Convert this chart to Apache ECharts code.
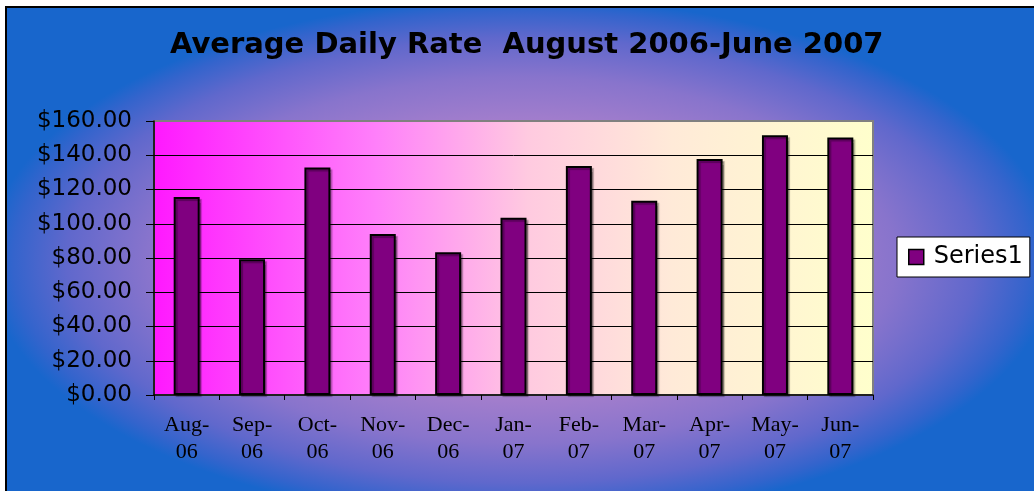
<!DOCTYPE html>
<html>
<head>
<meta charset="utf-8">
<script src="https://cdn.jsdelivr.net/npm/echarts@6/dist/echarts.min.js"></script>
<style>
  html, body { margin: 0; padding: 0; background: #fff; }
  #bg {
    position: absolute; left: 5px; top: 6px; width: 1029px; height: 485px;
    border-left: 2px solid #000; border-top: 2px solid #000;
    background: radial-gradient(ellipse 52% 54% at 50% 52%, #c29ada 0%, #a47ecc 52%, #8874cc 70%, #6068cc 85%, #3464cc 95%, #1866cc 100%);
  }
  #main { position: absolute; left: 0; top: 0; width: 1034px; height: 491px; }
</style>
</head>
<body>
<div id="bg"></div>
<div id="main"></div>
<script>
// data
var months = ['Aug-\n06', 'Sep-\n06', 'Oct-\n06', 'Nov-\n06', 'Dec-\n06', 'Jan-\n07',
              'Feb-\n07', 'Mar-\n07', 'Apr-\n07', 'May-\n07', 'Jun-\n07'];
var series1 = [115.6, 79.2, 132.9, 94.0, 83.4, 103.5, 133.7, 113.5, 137.8, 151.7, 150.4];
var yMin = 0, yMax = 160, yStep = 20;

var chart = echarts.init(document.getElementById('main'), null, {renderer: 'canvas'});

var option = {
    backgroundColor: 'transparent',
    animation: false,
    title: {
        text: 'Average Daily Rate  August 2006-June 2007',
        left: 170,
        top: 31,
        padding: 0,
        textStyle: {
            fontFamily: 'DejaVu Sans',
            fontWeight: 'bold',
            fontSize: 29,
            color: '#000'
        }
    },
    legend: {
        data: ['Series1'],
        left: 897,
        top: 237,
        orient: 'vertical',
        padding: [8, 7, 8, 11],
        backgroundColor: '#fff',
        borderColor: '#000',
        borderWidth: 1,
        itemWidth: 15,
        itemHeight: 15,
        itemGap: 0,
        icon: 'rect',
        itemStyle: { color: '#800080', borderColor: '#000', borderWidth: 1.5 },
        textStyle: {
            fontFamily: 'DejaVu Sans',
            fontSize: 24,
            color: '#000',
            padding: [0, 0, 0, 5]
        }
    },
    grid: {
        left: 154,
        right: 161,
        top: 121,
        bottom: 96,
        show: true,
        borderColor: '#808080',
        borderWidth: 2,
        backgroundColor: new echarts.graphic.LinearGradient(0, 0, 1, 0, [
            {offset: 0, color: '#ff18ff'},
            {offset: 0.31, color: '#ff80fa'},
            {offset: 0.52, color: '#ffcae0'},
            {offset: 0.72, color: '#ffead8'},
            {offset: 1, color: '#ffffcc'}
        ])
    },
    xAxis: {
        type: 'category',
        data: months,
        boundaryGap: true,
        axisLine: { show: true, lineStyle: { color: '#000', width: 1.5 } },
        axisTick: { show: true, length: 5, inside: false, lineStyle: { color: '#000', width: 1 } },
        axisLabel: {
            interval: 0,
            margin: 17,
            fontFamily: 'Liberation Serif',
            fontSize: 22,
            lineHeight: 27,
            color: '#000'
        },
        splitLine: { show: false }
    },
    yAxis: {
        type: 'value',
        min: yMin,
        max: yMax,
        interval: yStep,
        axisLine: { show: true, lineStyle: { color: '#000', width: 1.5 } },
        axisTick: { show: true, length: 8, lineStyle: { color: '#000', width: 1 } },
        axisLabel: {
            margin: 22,
            fontFamily: 'DejaVu Sans',
            fontSize: 23,
            color: '#000',
            formatter: function (v) { return '$' + v.toFixed(2); }
        },
        splitLine: {
            show: true,
            showMinLine: false,
            showMaxLine: false,
            lineStyle: { color: '#000', width: 1 }
        }
    },
    series: [{
        name: 'Series1',
        type: 'bar',
        data: series1,
        barWidth: 26,
        itemStyle: {
            color: '#800080',
            borderColor: '#000',
            borderWidth: 2,
            shadowColor: 'rgba(0,0,0,0.3)',
            shadowOffsetX: 2,
            shadowOffsetY: 2,
            shadowBlur: 1
        }
    }]
};

chart.setOption(option);
</script>
</body>
</html>
